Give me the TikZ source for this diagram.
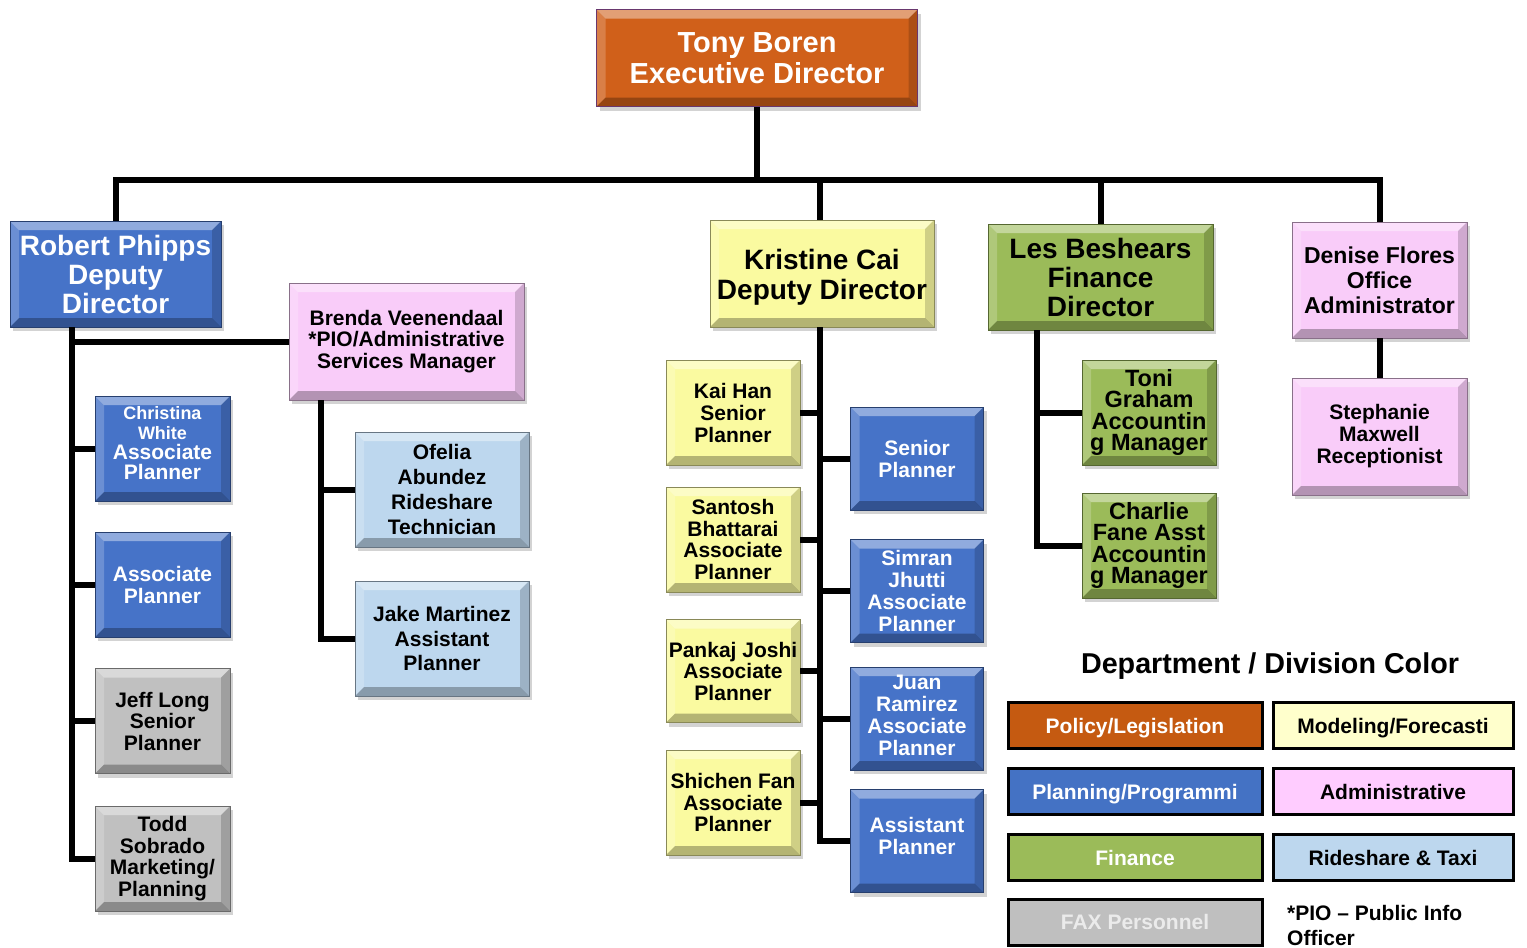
\documentclass[tikz,border=0pt]{standalone}
\usepackage{fontspec}
\setmainfont{Liberation Sans}
\usetikzlibrary{shadows,calc}
\definecolor{cOr}{RGB}{208,96,26}
\definecolor{cBl}{RGB}{70,115,200}
\definecolor{cYe}{RGB}{250,250,160}
\definecolor{cGr}{RGB}{155,187,89}
\definecolor{cPk}{RGB}{249,204,249}
\definecolor{cLb}{RGB}{189,215,238}
\definecolor{cGy}{RGB}{192,192,192}
\definecolor{lOr}{RGB}{197,90,17}
\definecolor{lBl}{RGB}{68,114,196}
\definecolor{lYe}{RGB}{255,255,204}
\definecolor{lPk}{RGB}{255,204,255}
\definecolor{lGy}{RGB}{191,191,191}
\definecolor{lFx}{RGB}{235,235,235}
\definecolor{tBd}{RGB}{105,55,110}
\tikzset{
  box/.style={draw=#1!55!black, line width=0.8pt, fill=#1, align=center,
    inner sep=0pt, font=\bfseries,
    drop shadow={opacity=0.35, shadow xshift=3pt, shadow yshift=-4pt},
    path picture={
      \coordinate (@sw) at (path picture bounding box.south west);
      \coordinate (@ne) at (path picture bounding box.north east);
      \coordinate (@nw) at (@sw |- @ne);
      \coordinate (@se) at (@ne |- @sw);
      \fill[white,opacity=0.4] (@nw) -- (@ne) -- ([shift={(-9pt,-9pt)}]@ne) -- ([shift={(9pt,-9pt)}]@nw) -- cycle;
      \fill[white,opacity=0.2] (@nw) -- (@sw) -- ([shift={(9pt,9pt)}]@sw) -- ([shift={(9pt,-9pt)}]@nw) -- cycle;
      \fill[black,opacity=0.28] (@sw) -- (@se) -- ([shift={(-9pt,9pt)}]@se) -- ([shift={(9pt,9pt)}]@sw) -- cycle;
      \fill[black,opacity=0.17] (@se) -- (@ne) -- ([shift={(-9pt,-9pt)}]@ne) -- ([shift={(-9pt,9pt)}]@se) -- cycle;
    }},
  conn/.style={line width=6pt, black, line join=miter},
  leg/.style={draw=black, line width=3pt, fill=#1, minimum height=46pt,
    inner sep=0pt, text height=15pt, text depth=0pt,
    font=\bfseries\fontsize{21}{22}\selectfont},
}
\begin{document}
\begin{tikzpicture}[x=1pt,y=-1pt]
\useasboundingbox (0,0) rectangle (1527,948);
% top
\node[box=cOr, draw=tBd, text=white, minimum width=321, minimum height=97,
  font=\bfseries\fontsize{29}{31}\selectfont] (tony) at (757,58) {Tony Boren\\Executive Director};
% level 1
\node[box=cBl, text=white, minimum width=211, minimum height=106,
  font=\bfseries\fontsize{28}{29}\selectfont] (rob) at (115.5,274) {Robert Phipps\\Deputy\\Director};
\node[box=cYe, minimum width=224, minimum height=107,
  font=\bfseries\fontsize{28}{30}\selectfont] (kris) at (822,273.5) {\rule{0pt}{27pt}Kristine Cai\\Deputy Director};
\node[box=cGr, minimum width=225, minimum height=106,
  font=\bfseries\fontsize{28}{29}\selectfont] (les) at (1100.5,277) {Les Beshears\\Finance\\Director};
\node[box=cPk, minimum width=175, minimum height=116,
  font=\bfseries\fontsize{23}{25}\selectfont] (den) at (1379.5,280) {Denise Flores\\Office\\Administrator};
% Robert branch
\node[box=cPk, minimum width=235, minimum height=117,
  font=\bfseries\fontsize{21}{21.5}\selectfont] (bren) at (406.5,341.5) {Brenda Veenendaal\\*PIO/Administrative\\Services Manager};
\node[box=cBl, text=white, minimum width=135, minimum height=105,
  font=\bfseries\fontsize{18}{20}\selectfont] (chris) at (162.5,448.5) {Christina\\White\\\fontsize{21}{22}\selectfont Associate\\\fontsize{21}{23}\selectfont Planner\rule[-12pt]{0pt}{0pt}};
\node[box=cBl, text=white, minimum width=135, minimum height=105,
  font=\bfseries\fontsize{21}{22}\selectfont] (ap1) at (162.5,584.5) {Associate\\Planner};
\node[box=cGy, minimum width=135, minimum height=105,
  font=\bfseries\fontsize{21}{21.5}\selectfont] (jeff) at (162.5,721) {Jeff Long\\Senior\\Planner};
\node[box=cGy, minimum width=135, minimum height=105,
  font=\bfseries\fontsize{21}{21.7}\selectfont] (todd) at (162.5,858.5) {Todd\\Sobrado\\Marketing/\\Planning};
\node[box=cLb, minimum width=174, minimum height=115,
  font=\bfseries\fontsize{21}{25}\selectfont] (ofe) at (442,489.5) {Ofelia\\Abundez\\Rideshare\\Technician};
\node[box=cLb, minimum width=174, minimum height=115,
  font=\bfseries\fontsize{21}{24.5}\selectfont] (jake) at (442,638.5) {Jake Martinez\\Assistant\\Planner};
% Kristine branch
\node[box=cYe, minimum width=134, minimum height=105,
  font=\bfseries\fontsize{21}{22}\selectfont] (kai) at (733,412.5) {Kai Han\\Senior\\Planner};
\node[box=cYe, minimum width=134, minimum height=105,
  font=\bfseries\fontsize{21}{21.5}\selectfont] (sant) at (733,539.5) {Santosh\\Bhattarai\\Associate\\Planner};
\node[box=cYe, minimum width=134, minimum height=103,
  font=\bfseries\fontsize{21}{21.5}\selectfont] (pank) at (733,671) {Pankaj Joshi\\Associate\\Planner};
\node[box=cYe, minimum width=134, minimum height=105,
  font=\bfseries\fontsize{21}{21.5}\selectfont] (shi) at (733,802.5) {Shichen Fan\\Associate\\Planner};
\node[box=cBl, text=white, minimum width=133, minimum height=103,
  font=\bfseries\fontsize{21}{22}\selectfont] (sp) at (917,458.5) {Senior\\Planner};
\node[box=cBl, text=white, minimum width=133, minimum height=103,
  font=\bfseries\fontsize{21}{22}\selectfont] (sim) at (917,591) {Simran\\Jhutti\\Associate\\Planner};
\node[box=cBl, text=white, minimum width=133, minimum height=103,
  font=\bfseries\fontsize{21}{22}\selectfont] (juan) at (917,718.5) {Juan\\Ramirez\\Associate\\Planner\rule[-6pt]{0pt}{0pt}};
\node[box=cBl, text=white, minimum width=133, minimum height=103,
  font=\bfseries\fontsize{21}{22}\selectfont] (asp) at (917,841) {Assistant\\Planner\rule[-10pt]{0pt}{0pt}};
% Les branch
\node[box=cGr, minimum width=134, minimum height=105,
  font=\bfseries\fontsize{23.5}{21.5}\selectfont] (toni) at (1149,412.5) {Toni\\Graham\\Accountin\\g Manager};
\node[box=cGr, minimum width=134, minimum height=105,
  font=\bfseries\fontsize{23.5}{21.5}\selectfont] (charl) at (1149,545.5) {Charlie\\Fane Asst\\Accountin\\g Manager};
% Denise branch
\node[box=cPk, minimum width=175, minimum height=117,
  font=\bfseries\fontsize{21}{22}\selectfont] (steph) at (1379.5,436.5) {Stephanie\\Maxwell\\Receptionist};
% connectors
\coordinate (bus) at (757,180);
\coordinate (rv) at (72,327);
\coordinate (bv) at (321,400);
\coordinate (kv) at (820,327);
\coordinate (lv) at (1037,330);
\draw[conn] (tony.south) -- (tony.south |- bus);
\draw[conn] (rob.north) -- (rob.north |- bus) -- (den.north |- bus) -- (den.north);
\draw[conn] (kv |- bus) -- (kv |- kris.north);
\draw[conn] (les.north |- bus) -- (les.north);
\draw[conn] (rv) |- (todd.west);
\draw[conn] (rv |- bren.west) -- (bren.west);
\draw[conn] (rv |- chris.west) -- (chris.west);
\draw[conn] (rv |- ap1.west) -- (ap1.west);
\draw[conn] (rv |- jeff.west) -- (jeff.west);
\draw[conn] (bv) |- (jake.west);
\draw[conn] (bv |- ofe.west) -- (ofe.west);
\draw[conn] (kv) |- (asp.west);
\draw[conn] (kv |- kai.east) -- (kai.east);
\draw[conn] (kv |- sant.east) -- (sant.east);
\draw[conn] (kv |- pank.east) -- (pank.east);
\draw[conn] (kv |- shi.east) -- (shi.east);
\draw[conn] (kv |- sp.west) -- (sp.west);
\draw[conn] (kv |- sim.west) -- (sim.west);
\draw[conn] (kv |- juan.west) -- (juan.west);
\draw[conn] (lv) |- (charl.west);
\draw[conn] (lv |- toni.west) -- (toni.west);
\draw[conn] (den.south) -- (steph.north);
% legend
\node[font=\bfseries\fontsize{28.7}{30}\selectfont] (title) at (1270,666) {Department / Division Color};
\node[leg=lOr, text=white, minimum width=254] (l1) at (1135,725.5) {Policy/Legislation};
\node[leg=lYe, minimum width=240] (l2) at (1393,725.5) {Modeling/Forecasti};
\node[leg=lBl, text=white, minimum width=254] (l3) at (1135,791.5) {Planning/Programmi};
\node[leg=lPk, minimum width=240] (l4) at (1393,791.5) {Administrative};
\node[leg=cGr, text=white, minimum width=254] (l5) at (1135,857.5) {Finance};
\node[leg=cLb, minimum width=240] (l6) at (1393,857.5) {Rideshare \& Taxi};
\node[leg=lGy, text=lFx, minimum width=254] (l7) at (1135,922) {FAX Personnel};
\node[anchor=north west, align=left, inner sep=0pt,
  font=\bfseries\fontsize{21}{25}\selectfont] (pio) at (1287,905) {*PIO – Public Info\\Officer};
\end{tikzpicture}
\end{document}
